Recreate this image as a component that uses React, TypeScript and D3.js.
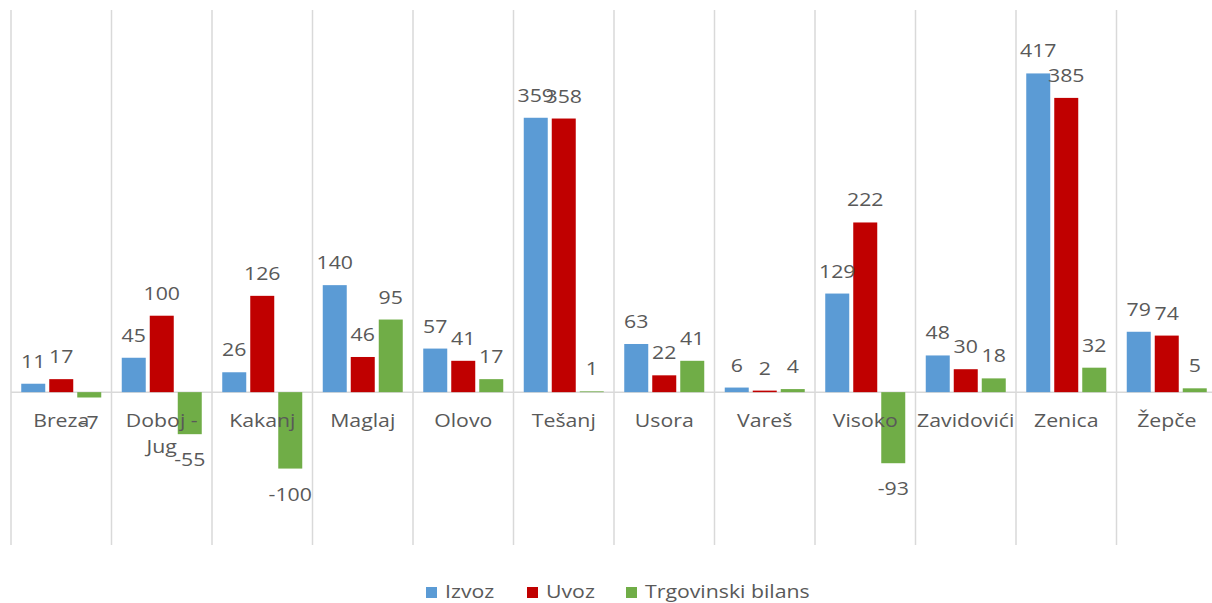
import * as d3 from 'd3';

const categories = ['Breza', 'Doboj - Jug', 'Kakanj', 'Maglaj', 'Olovo', 'Tešanj', 'Usora', 'Vareš', 'Visoko', 'Zavidovići', 'Zenica', 'Žepče'];
const izvoz = [11, 45, 26, 140, 57, 359, 63, 6, 129, 48, 417, 79];
const uvoz = [17, 100, 126, 46, 41, 358, 22, 2, 222, 30, 385, 74];
const bilans = [-7, -55, -100, 95, 17, 1, 41, 4, -93, 18, 32, 5];
const seriesNames = ['Izvoz', 'Uvoz', 'Trgovinski bilans'];
const seriesColors = ['#5B9BD5', '#C00000', '#70AD47'];
const yDomain = [-200, 500];
// legend item starts (square x)
const legendX = [426, 527, 626];

const W = 1212;
const H = 603;
const FONT = "'Open Sans', sans-serif";
const TXT = '#595959';
const SX = 1.12;

const Label = ({ x, y, text }: { x: number; y: number; text: string }) => (
	<g transform={`translate(${x},${y}) scale(${SX},1)`}>
		<text textAnchor='middle' fontSize={19} fill={TXT} fontFamily={FONT}>
			{text}
		</text>
	</g>
);

const App = () => {
	const x = d3.scaleBand<string>().domain(categories).range([11, 1217]);
	const inner = d3
		.scaleBand<string>()
		.domain(seriesNames)
		.range([0, x.bandwidth()])
		.paddingInner(0.143)
		.paddingOuter(0.366);
	const y = d3.scaleLinear().domain(yDomain).range([545, 10]);
	const series = [izvoz, uvoz, bilans];
	const edges = d3.range(categories.length + 1).map((i) => 11 + i * x.step());

	return (
		<svg width={W} height={H} style={{ position: 'absolute', left: 0, top: 0, background: '#fff' }}>
			{edges.map((ex, i) => (
				<line key={i} x1={ex} x2={ex} y1={y(yDomain[1])} y2={y(yDomain[0])} stroke='#D9D9D9' strokeWidth={1.5} />
			))}
			<line x1={11} x2={1217} y1={y(0)} y2={y(0)} stroke='#D9D9D9' strokeWidth={1.5} />

			{series.map((vals, si) =>
				vals.map((v, ci) => {
					const bx = (x(categories[ci]) ?? 0) + (inner(seriesNames[si]) ?? 0);
					return (
						<rect
							key={`${si}-${ci}`}
							x={bx}
							y={y(Math.max(0, v))}
							width={inner.bandwidth()}
							height={Math.abs(y(v) - y(0))}
							fill={seriesColors[si]}
						/>
					);
				})
			)}

			{categories.map((c, ci) => {
				const cx = (x(c) ?? 0) + x.bandwidth() / 2;
				const lines = c === 'Doboj - Jug' ? ['Doboj -', 'Jug'] : [c];
				return lines.map((l, li) => <Label key={`${c}-${li}`} x={cx} y={427 + li * 26} text={l} />);
			})}

			{series.map((vals, si) =>
				vals.map((v, ci) => {
					const cx = (x(categories[ci]) ?? 0) + (inner(seriesNames[si]) ?? 0) + inner.bandwidth() / 2;
					const ly = v >= 0 ? y(v) - 16 : y(v) + 32;
					return <Label key={`l${si}-${ci}`} x={cx} y={ly} text={String(v)} />;
				})
			)}

			{seriesNames.map((s, si) => (
				<g key={s}>
					<rect x={legendX[si]} y={587} width={11} height={11} fill={seriesColors[si]} />
					<g transform={`translate(${legendX[si] + 19},598) scale(${SX},1)`}>
						<text fontSize={19} fill={TXT} fontFamily={FONT}>
							{s}
						</text>
					</g>
				</g>
			))}
		</svg>
	);
};

export default App;
